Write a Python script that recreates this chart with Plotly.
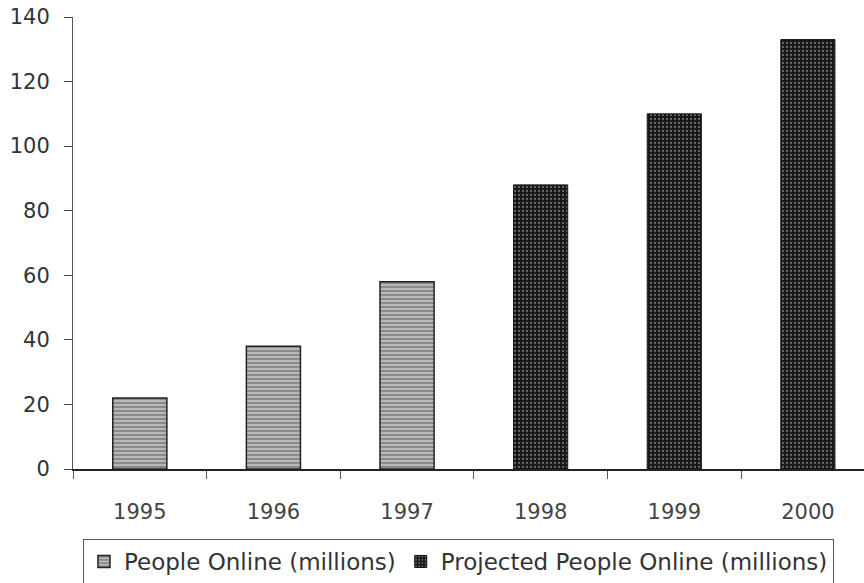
import plotly.graph_objects as go

years = ["1995", "1996", "1997", "1998", "1999", "2000"]
people_online = [22, 38, 58, None, None, None]
projected_online = [None, None, None, 88, 110, 133]
y_ticks = [0, 20, 40, 60, 80, 100, 120, 140]

fig = go.Figure()
fig.add_trace(go.Bar(
    x=years, y=people_online, name="People Online (millions)",
    marker=dict(color="#9a9a9a", line=dict(color="#222222", width=1.5),
                pattern=dict(shape="-", fgcolor="#333333", bgcolor="#b8b8b8", size=4, solidity=0.35)),
))
fig.add_trace(go.Bar(
    x=years, y=projected_online, name="Projected People Online (millions)",
    marker=dict(color="#1e1e1e", line=dict(color="#111111", width=1),
                pattern=dict(shape=".", fgcolor="#bdbdbd", bgcolor="#161616", size=4, solidity=0.25)),
))

font_family = "DejaVu Sans, Verdana, sans-serif"
fig.update_layout(
    width=864, height=583,
    margin=dict(l=73, r=0, t=17, b=114),
    paper_bgcolor="white", plot_bgcolor="white",
    barmode="overlay", bargap=0.595,
    font=dict(family=font_family, size=21, color="#333333"),
    showlegend=True,
    legend=dict(orientation="h", x=0.0126, y=1 - 539 / 583, yref="container",
                xanchor="left", yanchor="top",
                font=dict(family=font_family, size=23, color="#333333"),
                bordercolor="#555555", borderwidth=1,
                bgcolor="white", itemwidth=30, tracegroupgap=0),
)
fig.update_xaxes(
    type="category", range=[-0.5, 5.42],
    showline=True, linecolor="#222222", linewidth=2,
    ticks="outside", tickson="boundaries", ticklen=8, tickcolor="#555555",
    showgrid=False, ticklabelstandoff=23,
    tickfont=dict(family=font_family, size=21, color="#444444"),
)
fig.update_yaxes(
    range=[0, 140], tickvals=y_ticks,
    showline=True, linecolor="#555555", linewidth=1,
    ticks="outside", ticklen=8, tickcolor="#444444",
    showgrid=False, zeroline=False, ticklabelstandoff=10,
    tickfont=dict(family=font_family, size=21, color="#333333"),
)

fig.write_html("out.html")
